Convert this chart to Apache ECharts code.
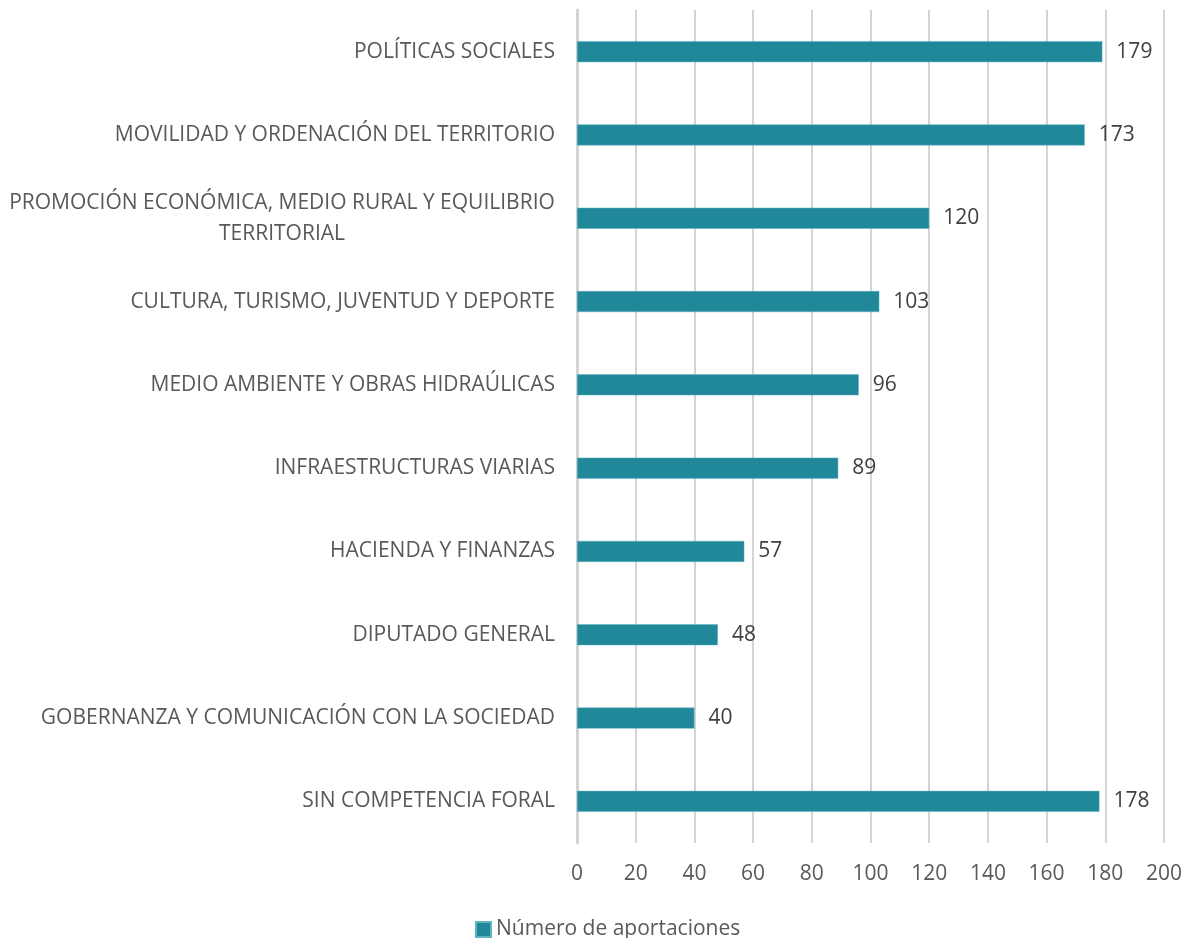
<!DOCTYPE html>
<html><head><meta charset="utf-8">
<script src="https://cdn.jsdelivr.net/npm/echarts@6/dist/echarts.min.js"></script>
<style>html,body{margin:0;padding:0;background:#fff}#c{width:1188px;height:938px}</style>
</head><body><div id="c"></div>
<script>
const categories = [
  "POLÍTICAS SOCIALES",
  "MOVILIDAD Y ORDENACIÓN DEL TERRITORIO",
  "PROMOCIÓN ECONÓMICA, MEDIO RURAL Y EQUILIBRIO\nTERRITORIAL",
  "CULTURA, TURISMO, JUVENTUD Y DEPORTE",
  "MEDIO AMBIENTE Y OBRAS HIDRAÚLICAS",
  "INFRAESTRUCTURAS VIARIAS",
  "HACIENDA Y FINANZAS",
  "DIPUTADO GENERAL",
  "GOBERNANZA Y COMUNICACIÓN CON LA SOCIEDAD",
  "SIN COMPETENCIA FORAL"
];
const values = [179, 173, 120, 103, 96, 89, 57, 48, 40, 178];
const seriesName = "Número de aportaciones";
const xTicks = [0, 20, 40, 60, 80, 100, 120, 140, 160, 180, 200];

const FONT = '"Open Sans", sans-serif';
const LABEL_SIZE = 21;
const ctx = document.createElement('canvas').getContext('2d');
ctx.font = LABEL_SIZE + 'px "Open Sans"';

function fmtLabel(v) {
  const lines = v.split('\n');
  if (lines.length === 1) return v;
  return lines.map(l => '{c|' + l + '}').join('\n');
}

const chart = echarts.init(document.getElementById('c'), null, {renderer: 'canvas'});
chart.setOption({
  animation: false,
  textStyle: {fontFamily: FONT},
  grid: {left: 577, right: 24, top: 10, bottom: 95, containLabel: false},
  legend: {
    top: 914, left: 470,
    itemWidth: 15, itemHeight: 15, itemGap: 6,
    icon: 'rect',
    textStyle: {fontSize: 21, color: '#595959', fontFamily: FONT},
    data: [seriesName]
  },
  xAxis: {
    type: 'value', min: 0, max: 200, interval: 20,
    axisLine: {show: false}, axisTick: {show: false},
    axisLabel: {fontSize: 21, color: '#595959', margin: 21, fontFamily: FONT,
      formatter: v => xTicks.includes(v) ? String(v) : ''},
    splitLine: {lineStyle: {color: '#d4d4d4', width: 2}}
  },
  yAxis: {
    type: 'category', data: categories, inverse: true,
    axisLine: {show: true, lineStyle: {color: '#d4d4d4', width: 3}},
    axisTick: {show: false},
    axisLabel: {
      fontSize: LABEL_SIZE, color: '#595959', margin: 22, fontFamily: FONT, lineHeight: 31,
      formatter: fmtLabel,
      rich: {c: {width: 0, align: 'center', fontSize: LABEL_SIZE, color: '#595959', fontFamily: FONT, lineHeight: 31}}
    }
  },
  series: [{
    name: seriesName, type: 'bar', data: values, barWidth: 21,
    itemStyle: {color: '#21889a', borderColor: '#5fb3c2', borderWidth: 0.5},
    label: {show: true, position: 'right', distance: 14, fontSize: 21, color: '#404040', fontFamily: FONT}
  }]
});
(function(){
  const lines = categories[2].split('\n');
  const w = Math.max(...lines.map(l => ctx.measureText(l).width));
  chart.setOption({yAxis: {axisLabel: {rich: {c: {width: Math.ceil(w)}}}}});
})();
</script></body></html>
